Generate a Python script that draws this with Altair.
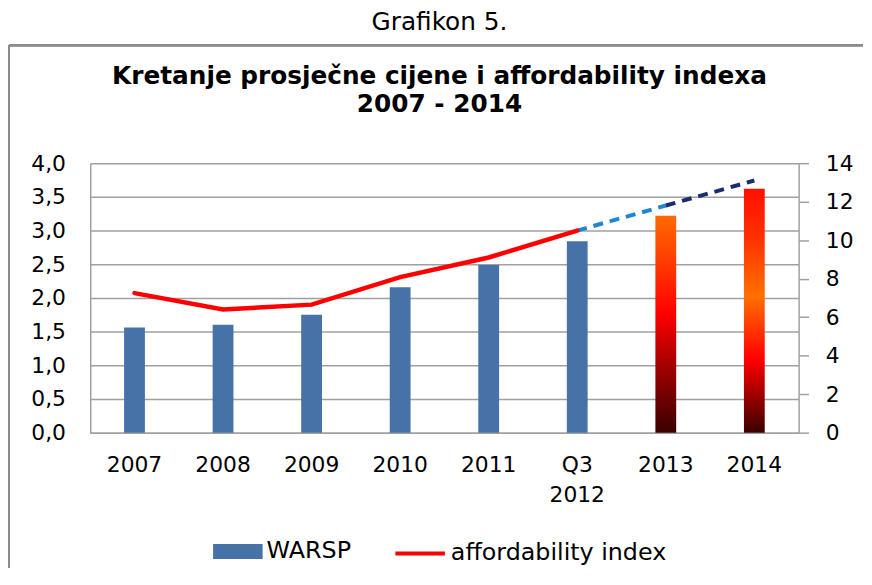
import altair as alt
import pandas as pd

categories = ["2007", "2008", "2009", "2010", "2011", "Q3 2012", "2013", "2014"]
warsp = [1.56, 1.60, 1.75, 2.16, 2.49, 2.84, 3.22, 3.62]
afford = [7.25, 6.40, 6.65, 8.08, 9.10, 10.50, 11.80, 13.10]
left_ticks = [0, 0.5, 1.0, 1.5, 2.0, 2.5, 3.0, 3.5, 4.0]
right_ticks = [0, 2, 4, 6, 8, 10, 12, 14]
caption = "Grafikon 5."
title_lines = ["Kretanje prosječne cijene i affordability indexa", "2007 - 2014"]

FONT = "DejaVu Sans"
W, H = 715, 272

df = pd.DataFrame({"cat": categories, "warsp": warsp, "afford": afford})
df["s_bar"] = "WARSP"
df["s_line"] = "affordability index"

hist = df.iloc[:6]
f2013 = df.iloc[6:7]
f2014 = df.iloc[7:8]
dash1 = df.iloc[5:7]
dash2 = df.iloc[6:8]

x_enc = alt.X(
    "cat:N",
    sort=categories,
    scale=alt.Scale(domain=categories, paddingInner=0, paddingOuter=0),
    axis=alt.Axis(
        title=None, labelAngle=0, labelExpr="split(datum.label, ' ')",
        labelFont=FONT, labelFontSize=22, labelColor="#000000",
        labelPadding=22, labelLineHeight=30, ticks=False,
        domainColor="#a0a0a0", domainWidth=1.5, grid=False,
    ),
)

y_left = alt.Y(
    "warsp:Q",
    scale=alt.Scale(domain=[0, 4], nice=False),
    axis=alt.Axis(
        title=None, values=left_ticks,
        labelExpr="replace(format(datum.value, '.1f'), '.', ',')",
        labelFont=FONT, labelFontSize=22, labelColor="#000000",
        labelPadding=25, ticks=False,
        domainColor="#a0a0a0", domainWidth=1.5,
        grid=True, gridColor="#a0a0a0", gridWidth=1.5,
    ),
)

y_right = alt.Y(
    "afford:Q",
    scale=alt.Scale(domain=[0, 14], nice=False),
    axis=alt.Axis(
        title=None, values=right_ticks, orient="right",
        labelFont=FONT, labelFontSize=22, labelColor="#000000",
        labelPadding=17, ticks=True, tickSize=10, tickColor="#a0a0a0", tickWidth=1.5,
        domainColor="#a0a0a0", domainWidth=1.5, grid=False,
    ),
)

blue_bars = alt.Chart(hist).mark_bar(size=21).encode(
    x=x_enc,
    y=y_left,
    fill=alt.Fill(
        "s_bar:N",
        scale=alt.Scale(domain=["WARSP"], range=["#4672a8"]),
        legend=alt.Legend(
            title=None, orient="none", legendX=124, legendY=367,
            symbolType="M-1,-0.3H1V0.3H-1Z", symbolSize=2500, symbolStrokeWidth=0,
            labelFont=FONT, labelFontSize=24, labelColor="#000000", labelOffset=4,
            labelLimit=400,
        ),
    ),
)

grad2013 = alt.Gradient(
    gradient="linear", x1=0, x2=0, y1=1, y2=0,
    stops=[
        alt.GradientStop(color="#3a0000", offset=0),
        alt.GradientStop(color="#a00000", offset=0.3),
        alt.GradientStop(color="#ff0000", offset=0.55),
        alt.GradientStop(color="#ff3a00", offset=0.78),
        alt.GradientStop(color="#ff6a00", offset=1),
    ],
)
grad2014 = alt.Gradient(
    gradient="linear", x1=0, x2=0, y1=1, y2=0,
    stops=[
        alt.GradientStop(color="#3a0000", offset=0),
        alt.GradientStop(color="#ff0000", offset=0.3),
        alt.GradientStop(color="#ff7000", offset=0.56),
        alt.GradientStop(color="#ff3000", offset=0.8),
        alt.GradientStop(color="#ff1000", offset=1),
    ],
)

bar13 = alt.Chart(f2013).mark_bar(size=21, color=grad2013).encode(x=x_enc, y=y_left)
bar14 = alt.Chart(f2014).mark_bar(size=21, color=grad2014).encode(x=x_enc, y=y_left)

# frame decoration around the chart
frame_top = alt.Chart(hist).mark_rule(color="#8c8c8c", strokeWidth=2).encode(
    x=alt.value(-82), x2=alt.value(780), y=alt.value(-119)
)
frame_left = alt.Chart(hist).mark_rule(color="#8c8c8c", strokeWidth=2).encode(
    x=alt.value(-82), y=alt.value(-119), y2=alt.value(408)
)

# bold chart heading inside the frame
head_df = pd.DataFrame({"t": title_lines})
head1 = alt.Chart(head_df.iloc[:1]).mark_text(
    font=FONT, fontSize=25, fontWeight="bold", color="#000000",
    align="center", baseline="alphabetic",
).encode(x=alt.value(W / 2 - 5), y=alt.value(-80), text="t:N")
head2 = alt.Chart(head_df.iloc[1:]).mark_text(
    font=FONT, fontSize=25, fontWeight="bold", color="#000000",
    align="center", baseline="alphabetic",
).encode(x=alt.value(W / 2 - 5), y=alt.value(-52), text="t:N")

bars = alt.layer(blue_bars, bar13, bar14, frame_top, frame_left, head1, head2)

red_line = alt.Chart(hist).mark_line(strokeWidth=4.5, strokeCap="round").encode(
    x=x_enc,
    y=y_right,
    stroke=alt.Stroke(
        "s_line:N",
        scale=alt.Scale(domain=["affordability index"], range=["#ff0000"]),
        legend=alt.Legend(
            title=None, orient="none", legendX=306, legendY=367,
            symbolType="stroke", symbolSize=2500, symbolStrokeWidth=4,
            labelFont=FONT, labelFontSize=24, labelColor="#000000", labelOffset=4,
            labelLimit=400,
        ),
    ),
)
dash_a = alt.Chart(dash1).mark_line(strokeWidth=4, strokeDash=[10, 7], color="#1f86d6").encode(
    x=x_enc, y=y_right
)
dash_b = alt.Chart(dash2).mark_line(strokeWidth=4, strokeDash=[10, 7], color="#1b2d6e").encode(
    x=x_enc, y=y_right
)

lines = alt.layer(dash_a, dash_b, red_line)

chart = (
    alt.layer(bars, lines)
    .resolve_scale(y="independent", fill="independent", stroke="independent")
    .properties(
        width=W,
        height=H,
        padding={"left": 0, "top": 0, "right": 0, "bottom": 0},
        title=alt.TitleParams(
            text=caption,
            anchor="middle", frame="group", dx=-5,
            font=FONT, fontSize=25, fontWeight="normal", color="#000000",
            offset=9,
        ),
    )
    .configure_view(stroke=None)
)

chart.save("out.html", embed_options={"renderer": "svg", "actions": False})
